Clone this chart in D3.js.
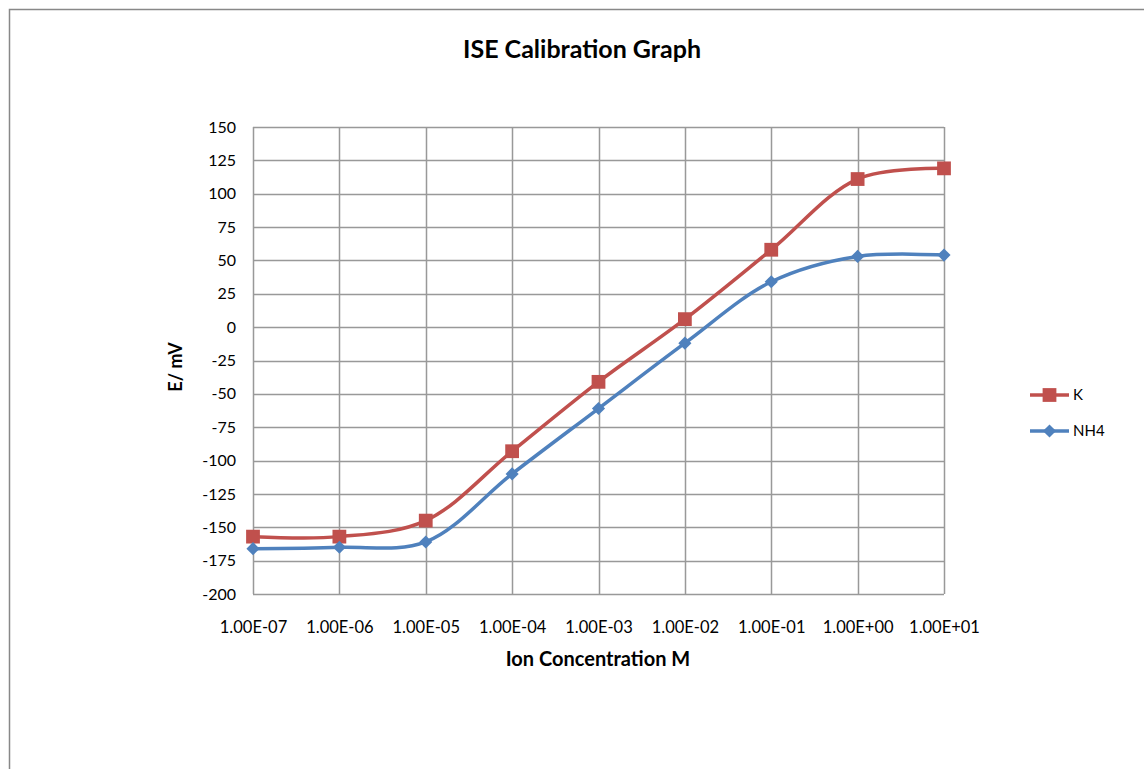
<!DOCTYPE html>
<html>
<head>
<meta charset="utf-8">
<script src="https://cdn.jsdelivr.net/npm/d3@7"></script>
<style>
  body { margin: 0; background: #fff; }
  text { font-family: Lato, "Open Sans", sans-serif; fill: #000; }
</style>
</head>
<body>
<div id="chart"></div>
<script>
// data
const concentrations = [1e-7, 1e-6, 1e-5, 1e-4, 1e-3, 1e-2, 1e-1, 1, 10];
const tickLabels = ["1.00E-07", "1.00E-06", "1.00E-05", "1.00E-04", "1.00E-03", "1.00E-02", "1.00E-01", "1.00E+00", "1.00E+01"];
const kValues = [-157, -157, -145, -93, -41, 6, 58, 111, 119];
const nh4Values = [-166, -165, -161, -110, -61, -12, 34, 53, 54];
const yTicks = [150, 125, 100, 75, 50, 25, 0, -25, -50, -75, -100, -125, -150, -175, -200];

const width = 1144, height = 769;
const margin = { left: 253, top: 127, right: 200, bottom: 175 };
const plotW = 944 - margin.left, plotH = 594 - margin.top;

const svg = d3.select("#chart").append("svg")
  .attr("width", width)
  .attr("height", height);

// outer chart border
svg.append("rect")
  .attr("x", 9.5).attr("y", 9.5)
  .attr("width", width + 20).attr("height", height + 20)
  .attr("fill", "none")
  .attr("stroke", "#888")
  .attr("stroke-width", 1.5);

const g = svg.append("g").attr("transform", `translate(${margin.left},${margin.top})`);

const x = d3.scaleLog().domain([1e-7, 10]).range([0, plotW]);
const y = d3.scaleLinear().domain([-200, 150]).range([plotH, 0]);

// grid lines
g.append("g").selectAll("line")
  .data(yTicks)
  .join("line")
  .attr("x1", 0).attr("x2", plotW)
  .attr("y1", d => Math.round(y(d)) + 0.5).attr("y2", d => Math.round(y(d)) + 0.5)
  .attr("stroke", "#999").attr("stroke-width", 1.5);

g.append("g").selectAll("line")
  .data(concentrations)
  .join("line")
  .attr("x1", d => Math.round(x(d)) + 0.5).attr("x2", d => Math.round(x(d)) + 0.5)
  .attr("y1", 0).attr("y2", plotH)
  .attr("stroke", "#999").attr("stroke-width", 1.5);

// axes (labels only, like the original)
const yAxis = g.append("g")
  .call(d3.axisLeft(y).tickValues(yTicks).tickSize(0).tickPadding(17)
    .tickFormat(d => String(d)));
yAxis.select(".domain").remove();
yAxis.selectAll("text").style("font-size", "16px").style("font-family", "Lato, sans-serif").style("fill", "#000");

const xAxis = g.append("g")
  .attr("transform", `translate(0,${plotH})`)
  .call(d3.axisBottom(x).tickValues(concentrations).tickSize(0).tickPadding(27)
    .tickFormat((d, i) => tickLabels[i]));
xAxis.select(".domain").remove();
xAxis.selectAll("text").style("font-size", "16.5px").style("font-family", "Lato, sans-serif").style("fill", "#000");

// series
const series = [
  { name: "K", values: kValues, color: "#C0504D", marker: "square" },
  { name: "NH4", values: nh4Values, color: "#4F81BD", marker: "diamond" }
];

const line = d3.line()
  .x(d => x(d[0]))
  .y(d => y(d[1]))
  .curve(d3.curveCatmullRom.alpha(0.5));

const square = d3.symbol().type(d3.symbolSquare).size(190);
const diamond = d3.symbol().type(d3.symbolDiamond2).size(110);

series.forEach(s => {
  const pts = concentrations.map((c, i) => [c, s.values[i]]);
  g.append("path")
    .datum(pts)
    .attr("d", line)
    .attr("fill", "none")
    .attr("stroke", s.color)
    .attr("stroke-width", 3.5);
  g.append("g").selectAll("path")
    .data(pts)
    .join("path")
    .attr("transform", d => `translate(${x(d[0])},${y(d[1])})`)
    .attr("d", s.marker === "square" ? square : diamond)
    .attr("fill", s.color);
});

// title and axis titles
svg.append("text")
  .attr("x", 582).attr("y", 58)
  .attr("text-anchor", "middle")
  .style("font-size", "25px").style("font-weight", "bold")
  .text("ISE Calibration Graph");

svg.append("text")
  .attr("x", 598).attr("y", 666)
  .attr("text-anchor", "middle")
  .style("font-size", "20px").style("font-weight", "bold")
  .text("Ion Concentration M");

svg.append("text")
  .attr("transform", "translate(182,367) rotate(-90)")
  .attr("text-anchor", "middle")
  .style("font-size", "18px").style("font-weight", "bold")
  .text("E/ mV");

// legend
const legend = svg.append("g");
series.forEach((s, i) => {
  const ly = 395 + i * 36;
  legend.append("line")
    .attr("x1", 1030).attr("x2", 1069)
    .attr("y1", ly).attr("y2", ly)
    .attr("stroke", s.color).attr("stroke-width", 3.5);
  legend.append("path")
    .attr("transform", `translate(1049.5,${ly})`)
    .attr("d", s.marker === "square" ? square : diamond)
    .attr("fill", s.color);
  legend.append("text")
    .attr("x", 1073).attr("y", ly + 5)
    .style("font-size", "15px")
    .text(s.name);
});
</script>
</body>
</html>
